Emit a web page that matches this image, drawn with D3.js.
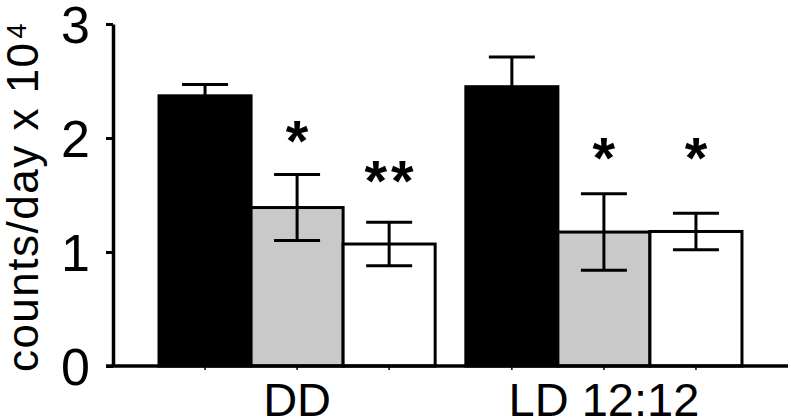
<!DOCTYPE html>
<html>
<head>
<meta charset="utf-8">
<script src="https://cdn.jsdelivr.net/npm/d3@7"></script>
<style>
  body { margin: 0; background: #fff; }
  svg text { font-family: "Liberation Sans", Arial, sans-serif; fill: #000; }
</style>
</head>
<body>
<div id="chart"></div>
<script>
// data
var groups = ["DD", "LD 12:12"];
var conditions = ["black", "grey", "white"];
var means = [[2.37, 1.39, 1.07], [2.45, 1.175, 1.18]];
var errors = [[0.10, 0.29, 0.19], [0.26, 0.335, 0.16]];
var stars = [["", "*", "**"], ["", "*", "*"]];
var starLevels = [[0, 2.09, 1.74], [0, 1.94, 1.94]];
var yTicks = [0, 1, 2, 3];

var fills = { black: "#000000", grey: "#c9c9c9", white: "#ffffff" };

var width = 791, height = 420;

var svg = d3.select("#chart")
  .append("svg")
  .attr("width", width)
  .attr("height", height);

var y = d3.scaleLinear().domain([0, 3]).range([366, 24]);

var x0 = d3.scaleBand()
  .domain(groups)
  .range([113, 788])
  .paddingInner(0.1)
  .paddingOuter(0.15);

var x1 = d3.scaleBand()
  .domain(conditions)
  .range([0, x0.bandwidth()]);

// build rows for the bars
var rows = [];
groups.forEach(function (g, gi) {
  conditions.forEach(function (c, ci) {
    rows.push({
      group: g, cond: c,
      mean: means[gi][ci], err: errors[gi][ci],
      star: stars[gi][ci], starAt: starLevels[gi][ci]
    });
  });
});

function cx(d) { return x0(d.group) + x1(d.cond) + x1.bandwidth() / 2; }

// bars
svg.selectAll(".bar")
  .data(rows).enter().append("rect")
  .attr("class", "bar")
  .attr("x", function (d) { return x0(d.group) + x1(d.cond); })
  .attr("y", function (d) { return y(d.mean); })
  .attr("width", x1.bandwidth())
  .attr("height", function (d) { return y(0) - y(d.mean); })
  .attr("fill", function (d) { return fills[d.cond]; })
  .attr("stroke", "#000")
  .attr("stroke-width", 3);

// error bars
var capHalf = 23;
var eb = svg.selectAll(".err").data(rows).enter().append("g").attr("class", "err")
  .attr("stroke", "#000").attr("stroke-width", 3);
eb.append("line")
  .attr("x1", cx).attr("x2", cx)
  .attr("y1", function (d) { return y(d.mean - d.err); })
  .attr("y2", function (d) { return y(d.mean + d.err); });
eb.append("line")
  .attr("x1", function (d) { return cx(d) - capHalf; })
  .attr("x2", function (d) { return cx(d) + capHalf; })
  .attr("y1", function (d) { return y(d.mean + d.err); })
  .attr("y2", function (d) { return y(d.mean + d.err); });
eb.append("line")
  .attr("x1", function (d) { return cx(d) - capHalf; })
  .attr("x2", function (d) { return cx(d) + capHalf; })
  .attr("y1", function (d) { return y(d.mean - d.err); })
  .attr("y2", function (d) { return y(d.mean - d.err); });

// significance stars
svg.selectAll(".star")
  .data(rows.filter(function (d) { return d.star !== ""; }))
  .enter().append("text")
  .attr("class", "star")
  .attr("x", cx)
  .attr("y", function (d) { return y(d.starAt) + 33; })
  .attr("text-anchor", "middle")
  .style("font-size", "58px")
  .style("font-weight", "bold")
  .style("letter-spacing", function (d) { return d.star.length > 1 ? "4px" : "0px"; })
  .attr("dx", function (d) { return d.star.length > 1 ? 2 : 0; })
  .text(function (d) { return d.star; });

// y axis
var yAxis = svg.append("g")
  .attr("transform", "translate(113,0)")
  .call(d3.axisLeft(y).tickValues(yTicks).tickFormat(d3.format("d"))
    .tickSize(7).tickSizeOuter(0).tickPadding(16));
yAxis.select(".domain").attr("stroke-width", 3.5);
yAxis.selectAll(".tick line").attr("stroke-width", 3);
yAxis.selectAll(".tick text")
  .attr("font-family", null)
  .style("font-size", "52px")
  .attr("dy", "0.36em");

// x axis
svg.append("line")
  .attr("x1", 106).attr("x2", 788)
  .attr("y1", y(0)).attr("y2", y(0))
  .attr("stroke", "#000").attr("stroke-width", 3.5);

svg.selectAll(".xtick")
  .data(rows).enter().append("line")
  .attr("x1", cx).attr("x2", cx)
  .attr("y1", y(0)).attr("y2", y(0) + 4)
  .attr("stroke", "#000").attr("stroke-width", 1.5);

svg.selectAll(".glabel")
  .data(groups).enter().append("text")
  .attr("x", function (d) { return x0(d) + x0.bandwidth() / 2; })
  .attr("y", 416)
  .attr("text-anchor", "middle")
  .style("font-size", "47px")
  .text(function (d) { return d; });

// y label
var ylab = svg.append("text")
  .attr("transform", "translate(38,197) rotate(-90)")
  .attr("text-anchor", "middle")
  .style("font-size", "44px")
  .style("letter-spacing", "1.5px");
ylab.append("tspan").text("counts/day x 10");
ylab.append("tspan").attr("dy", -12).attr("dx", 3).style("font-size", "27px").text("4");
</script>
</body>
</html>
